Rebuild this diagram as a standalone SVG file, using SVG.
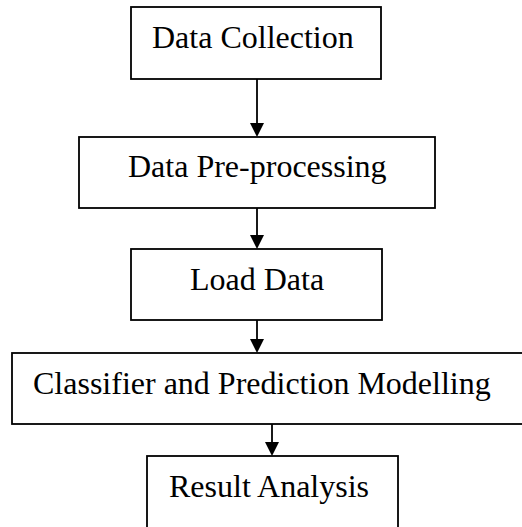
<svg xmlns="http://www.w3.org/2000/svg" width="522" height="527" viewBox="0 0 522 527">
<defs>
<style>
.box{fill:#fff;stroke:#000;stroke-width:1.8}
.lbl{font-family:"Liberation Serif","Times New Roman",serif;font-size:32px;fill:#000}
.conn{stroke:#000;stroke-width:1.8;fill:none}
.head{fill:#000}
</style>
</defs>
<rect width="522" height="527" fill="#fff"/>
<g id="data-collection"><rect class="box" x="131" y="7" width="250" height="72"/><text class="lbl" x="152" y="48">Data Collection</text></g>
<g id="data-preprocessing"><rect class="box" x="79" y="137" width="356" height="71"/><text class="lbl" x="128" y="177">Data Pre-processing</text></g>
<g id="load-data"><rect class="box" x="131" y="249" width="251" height="71"/><text class="lbl" x="190" y="290">Load Data</text></g>
<g id="classifier"><rect class="box" x="12" y="353" width="530" height="71"/><text class="lbl" x="33" y="394">Classifier and Prediction Modelling</text></g>
<g id="result-analysis"><rect class="box" x="147" y="456" width="251" height="90"/><text class="lbl" x="169" y="497">Result Analysis</text></g>
<g id="connectors">
<line class="conn" x1="257" y1="79" x2="257" y2="124"/><polygon class="head" points="250,123 264,123 257,137"/>
<line class="conn" x1="257" y1="208" x2="257" y2="236"/><polygon class="head" points="250,235 264,235 257,249"/>
<line class="conn" x1="257" y1="320" x2="257" y2="340"/><polygon class="head" points="250,339 264,339 257,353"/>
<line class="conn" x1="272" y1="424" x2="272" y2="443"/><polygon class="head" points="265,442 279,442 272,456"/>
</g>
</svg>
